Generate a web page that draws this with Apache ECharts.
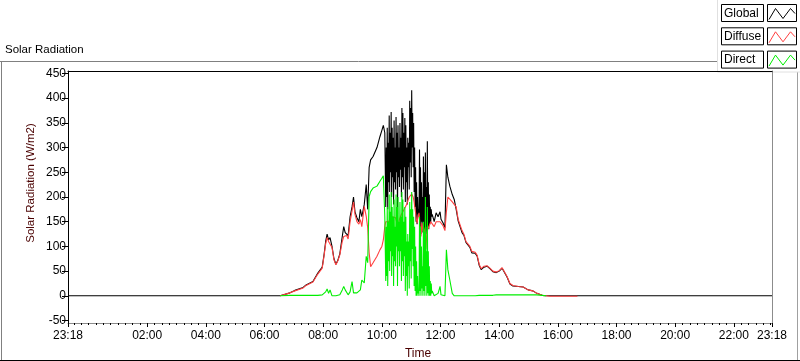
<!DOCTYPE html>
<html>
<head>
<meta charset="utf-8">
<script src="https://cdn.jsdelivr.net/npm/echarts@6/dist/echarts.min.js"></script>
<style>
  html, body { margin: 0; padding: 0; background: #fff; }
  #chart { width: 800px; height: 361px; }
</style>
</head>
<body>
<div id="chart"></div>
<script>
// time in minutes from midnight (negative = previous evening, 23:18)
const minutes = [
  -42, 392, 412, 422, 439, 445, 459, 469, 478, 482,
  485, 488, 491, 494, 498, 502, 506, 510, 514, 519,
  522, 525, 528, 531, 535, 539, 542, 545, 549, 553,
  556, 559, 564, 568, 571, 574, 577, 582, 590, 596,
  600, 603, 606,
  608, 609, 610, 611, 612, 613, 614, 615, 616, 617, 618, 619,
  620, 621, 622, 623, 624, 625, 626, 627, 628, 629, 630, 631,
  632, 633, 634, 635, 636, 637, 638, 639, 640, 641, 642, 643,
  644, 645, 646, 647, 648, 649, 650, 651, 652, 653, 654, 655,
  656, 657, 658, 659, 660, 661, 662, 663, 664, 665, 666, 667,
  668, 669, 670, 671, 672, 673, 674, 675, 676, 677, 678, 679,
  680, 681, 682, 683, 684, 685, 686, 687, 688, 689, 690, 691,
  692, 693, 694, 695, 696, 697, 698, 699, 700, 701, 702, 703,
  707, 711, 715, 719, 721, 725, 729, 732, 735, 739,
  744, 748, 752, 756, 760, 764, 768, 772, 776, 780,
  784, 791, 795, 799, 803, 809, 815, 821, 827, 834,
  840, 846, 850, 856, 862, 868, 879, 889, 899, 909,
  917, 928, 936, 944, 1000, 1398
]

const globalRad = [
  0, 0, 6, 11, 17, 22, 29, 46, 58, 85,
  110, 125, 113, 118, 100, 75, 64, 72, 85, 120,
  140, 128, 132, 122, 160, 180, 200, 170, 158, 150,
  175, 160, 185, 225, 175, 260, 275, 282, 300, 322,
  335, 345, 330,
  180, 300, 200, 340, 175, 310, 230, 365, 210, 330, 250, 372,
  200, 340, 240, 320, 185, 355, 230, 300, 215, 362, 250, 330,
  165, 345, 240, 300, 220, 350, 255, 320, 200, 380, 240, 370,
  215, 330, 260, 360, 190, 345, 230, 300, 185, 320, 260, 310,
  215, 395, 270, 380, 240, 416, 300, 370, 260, 350, 210, 300,
  180, 260, 150, 230, 145, 200, 165, 175, 160, 296, 140, 260,
  125, 230, 150, 200, 128, 282, 135, 250, 115, 290, 140, 220,
  125, 313, 140, 230, 135, 205, 145, 180, 150, 175, 160, 165,
  150, 168, 160, 170, 155, 148, 138, 265, 240, 222,
  205, 195, 175, 152, 148, 128, 122, 108, 103, 98,
  87, 86, 80, 62, 53, 58, 60, 55, 49, 47,
  50, 56, 53, 38, 24, 20, 19, 18, 12, 10,
  5, 1, 0, 0, 0, 0
]

const diffuseRad = [
  null, 0, 6, 10, 16, 21, 28, 44, 56, 83,
  105, 118, 110, 112, 98, 73, 63, 71, 83, 110,
  120, 118, 122, 115, 150, 172, 190, 165, 150, 145,
  154, 140, 181, 161, 138, 87, 59, 67, 80, 93,
  100, 113, 140,
  150, 151, 152, 152, 151, 150, 150, 152, 155, 156, 157, 158,
  158, 159, 160, 161, 161, 161, 160, 159, 158, 154, 150, 146,
  142, 143, 145, 150, 155, 158, 160, 163, 165, 167, 168, 170,
  172, 174, 176, 178, 180, 182, 183, 186, 188, 192, 195, 198,
  200, 202, 203, 204, 205, 206, 206, 203, 200, 195, 190, 182,
  175, 168, 160, 153, 147, 154, 160, 164, 168, 155, 140, 130,
  120, 135, 147, 140, 130, 134, 138, 125, 110, 100, 95, 110,
  127, 131, 135, 138, 140, 143, 145, 148, 150, 149, 148, 147,
  140, 150, 148, 150, 150, 142, 132, 170, 200, 198,
  190, 190, 180, 155, 152, 132, 124, 110, 105, 100,
  90, 88, 82, 64, 55, 60, 61, 56, 50, 48,
  51, 57, 54, 39, 25, 21, 19, 18, 12, 10,
  5, 1, 0, -1, -1, null
]

const directRad = [
  null, 0, 1, 1, 1, 1, 1, 1, 2, 3,
  8, 14, 5, 12, 0, 0, 0, 0, 2, 12,
  19, 12, 16, 2, 8, 29, 6, 9, 6, 6,
  12, 32, 26, 80, 67, 201, 211, 218, 222, 232,
  238, 243, 161,
  30, 140, 40, 180, 20, 150, 70, 205, 50, 170, 90, 210,
  40, 180, 80, 160, 20, 195, 70, 140, 60, 205, 100, 180,
  20, 200, 90, 150, 60, 190, 90, 160, 30, 210, 70, 195,
  40, 150, 80, 180, 10, 160, 40, 110, 0, 125, 60, 110,
  15, 190, 70, 175, 35, 210, 95, 175, 60, 160, 20, 140,
  10, 100, 0, 70, 0, 40, 5, 10, 0, 160, 10, 140,
  0, 100, 15, 60, 0, 150, 10, 130, 0, 200, 20, 90,
  0, 180, 5, 90, 0, 60, 0, 30, 0, 25, 5, 10,
  0, 2, 5, 19, 2, 0, 0, 93, 53, 32,
  5, 0, 0, 0, 0, 0, 0, 0, 0, 0,
  0, 0, 0, 1, 1, 1, 1, 1, 1, 2,
  2, 2, 2, 2, 2, 2, 2, 2, 2, 2,
  2, 1, 0, null, null, null
]

const xTickValues = [-42, 120, 240, 360, 480, 600, 720, 840, 960, 1080, 1200, 1320, 1398]
const xTickLabels = ['23:18', '02:00', '04:00', '06:00', '08:00', '10:00', '12:00', '14:00', '16:00', '18:00', '20:00', '22:00', '23:18']
const yTickValues = [-50, 0, 50, 100, 150, 200, 250, 300, 350, 400, 450]

const seriesNames = ['Global', 'Diffuse', 'Direct']
const seriesColors = ['#000000', '#ff4040', '#00ee00']

const X_MIN = -42
const X_MAX = 1398
const FONT = 'Liberation Sans, Arial, sans-serif'

const minorTicks = []
for (let m = -30; m < X_MAX; m += 15) minorTicks.push(m)

function pairs(values) {
  return minutes.map((m, i) => [m, values[i]])
}

function legendItem(i) {
  const y = 4.5 + i * 23.3
  return [
    {
      type: 'rect',
      shape: { x: 721.5, y, width: 42, height: 17 },
      style: { fill: '#fff', stroke: '#000', lineWidth: 1 }
    },
    {
      type: 'text',
      x: 724, y: y + 9,
      style: { text: seriesNames[i], font: '12px ' + FONT, fill: '#000', verticalAlign: 'middle' }
    },
    {
      type: 'rect',
      shape: { x: 767.5, y, width: 29, height: 17 },
      style: { fill: '#fff', stroke: '#000', lineWidth: 1 }
    },
    {
      type: 'polyline',
      shape: { points: [[769, y + 15], [775.5, y + 4], [783, y + 14], [790.5, y + 4], [795, y + 9]] },
      style: { stroke: seriesColors[i], lineWidth: 1, fill: null }
    }
  ]
}

const chart = echarts.init(document.getElementById('chart'), null, { renderer: 'canvas' })

const option = {
  animation: false,
  backgroundColor: '#fff',
  grid: { left: 68, right: 28, top: 71, height: 252, show: false },
  xAxis: [
    {
      type: 'value',
      min: X_MIN,
      max: X_MAX,
      axisLine: { show: true, onZero: false, lineStyle: { color: '#8c8c8c', width: 1 } },
      axisTick: { show: true, length: 4, customValues: xTickValues, lineStyle: { color: '#000' } },
      axisLabel: {
        customValues: xTickValues,
        margin: 7,
        color: '#000',
        fontSize: 12,
        fontFamily: FONT,
        formatter: (v) => {
          const idx = xTickValues.indexOf(v)
          return idx >= 0 ? xTickLabels[idx] : ''
        }
      },
      splitLine: { show: false }
    },
    {
      type: 'value',
      min: X_MIN,
      max: X_MAX,
      position: 'bottom',
      axisLine: { show: false, onZero: false },
      axisTick: { show: true, length: 2, customValues: minorTicks, lineStyle: { color: '#000' } },
      axisLabel: { show: false },
      splitLine: { show: false }
    },
    {
      type: 'value',
      min: X_MIN,
      max: X_MAX,
      position: 'top',
      axisLine: { show: true, onZero: false, lineStyle: { color: '#000', width: 1 } },
      axisTick: { show: false },
      axisLabel: { show: false },
      splitLine: { show: false }
    }
  ],
  yAxis: [
    {
      type: 'value',
      min: -55,
      max: 455,
      axisLine: { show: true, onZero: false, lineStyle: { color: '#000', width: 1 } },
      axisTick: { show: true, length: 6, customValues: yTickValues, lineStyle: { color: '#000' } },
      axisLabel: {
        customValues: yTickValues,
        margin: 2,
        color: '#000',
        fontSize: 12,
        fontFamily: FONT
      },
      splitLine: { show: false }
    },
    {
      type: 'value',
      min: -55,
      max: 455,
      position: 'right',
      axisLine: { show: true, onZero: false, lineStyle: { color: '#8c8c8c', width: 1 } },
      axisTick: { show: false },
      axisLabel: { show: false },
      splitLine: { show: false }
    }
  ],
  series: seriesNames.map((name, i) => ({
    name,
    type: 'line',
    xAxisIndex: 0,
    yAxisIndex: 0,
    data: pairs([globalRad, diffuseRad, directRad][i]),
    showSymbol: false,
    symbol: 'none',
    connectNulls: false,
    z: 2 + i,
    lineStyle: { color: seriesColors[i], width: 1.1 }
  })),
  graphic: [
    // panel frame
    { type: 'line', shape: { x1: 0, y1: 61.5, x2: 717, y2: 61.5 }, style: { stroke: '#808080', lineWidth: 1 } },
    { type: 'line', shape: { x1: 1.5, y1: 61.5, x2: 1.5, y2: 361 }, style: { stroke: '#808080', lineWidth: 1 } },
    { type: 'line', shape: { x1: 797.5, y1: 72, x2: 797.5, y2: 361 }, style: { stroke: '#a0a0a0', lineWidth: 1 } },
    { type: 'line', shape: { x1: 0, y1: 360.5, x2: 800, y2: 360.5 }, style: { stroke: '#000', lineWidth: 1 } },
    {
      type: 'text', x: 5, y: 50,
      style: { text: 'Solar Radiation', font: '11.5px ' + FONT, fill: '#000', verticalAlign: 'middle' }
    },
    {
      type: 'text', x: 418, y: 354,
      style: { text: 'Time', font: '12px ' + FONT, fill: '#4a0000', align: 'center', verticalAlign: 'middle' }
    },
    {
      type: 'text', x: 31, y: 183, rotation: Math.PI / 2,
      style: { text: 'Solar Radiation (W/m2)', font: '11.5px ' + FONT, fill: '#4a0000', align: 'center', verticalAlign: 'middle' }
    },
    // legend panel
    {
      type: 'rect',
      shape: { x: 717.5, y: -1, width: 84, height: 73 },
      style: { fill: '#fff', stroke: '#e0e0e0', lineWidth: 1 }
    },
    ...legendItem(0),
    ...legendItem(1),
    ...legendItem(2)
  ]
}

chart.setOption(option)
</script>
</body>
</html>
